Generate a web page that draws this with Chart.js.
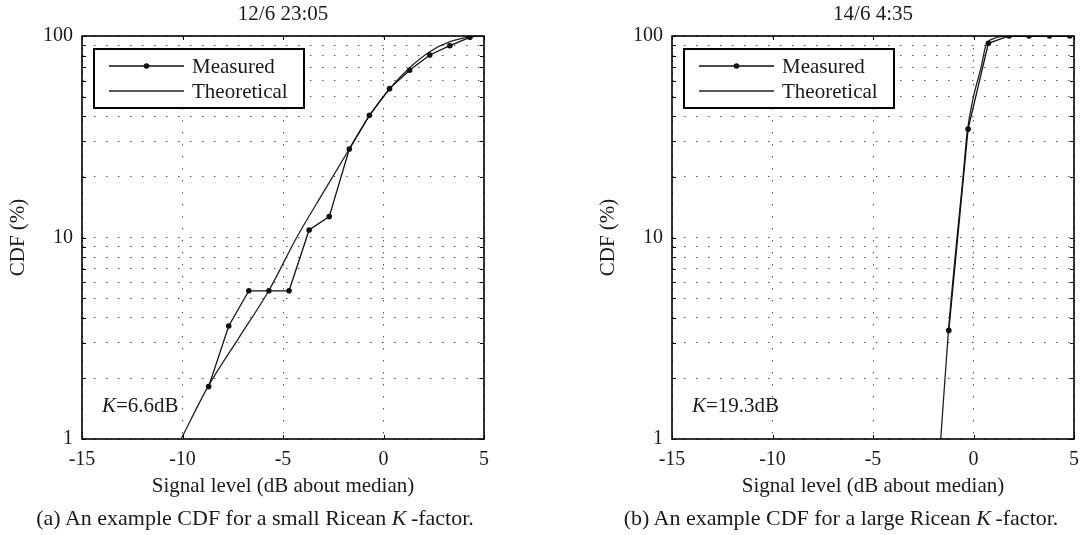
<!DOCTYPE html>
<html>
<head>
<meta charset="utf-8">
<script src="https://cdn.jsdelivr.net/npm/chart.js@4.4.1/dist/chart.umd.min.js"></script>
<style>
  body { margin: 0; background: #fff; width: 1081px; height: 535px; position: relative; overflow: hidden; font-family: "Liberation Serif", "Times New Roman", serif; }
  canvas { position: absolute; top: 0; }
  .caption { position: absolute; top: 506px; font-size: 22px; line-height: 24px; color: #1a1a1a; white-space: nowrap; transform: translateX(-50%); }
</style>
</head>
<body>
<canvas id="cdfA" width="498" height="535" style="left:0px"></canvas>
<canvas id="cdfB" width="498" height="535" style="left:590px"></canvas>
<div class="caption" style="left:255px">(a) An example CDF for a small Ricean <i>K</i>&#8201;-factor.</div>
<div class="caption" style="left:841px">(b) An example CDF for a large Ricean <i>K</i>&#8201;-factor.</div>
<script>
// axis values
const xTicks = [-15, -10, -5, 0, 5];
const yGridValues = [1, 2, 3, 4, 5, 6, 7, 8, 9, 10, 20, 30, 40, 50, 60, 70, 80, 90, 100];
const yLabelValues = [1, 10, 100];

// (a) small K
const titleA = "12/6 23:05";
const kLabelA = "6.6dB";
const measuredXA = [-8.7, -7.7, -6.7, -5.7, -4.7, -3.7, -2.7, -1.7, -0.7, 0.3, 1.3, 2.3, 3.3, 4.3];
const measuredYA = [1.82, 3.64, 5.44, 5.44, 5.44, 10.9, 12.7, 27.5, 40.4, 54.8, 67.6, 80.5, 89.5, 98.5];
const theoryXA = [-10.07, -8.73, -7.22, -5.71, -4.32, -3.0, -1.7, -0.69, 0.31, 1.3, 2.3, 3.31, 4.3, 4.89, 5];
const theoryYA = [1.0, 1.82, 3.15, 5.44, 10.0, 16.7, 27.5, 40.4, 54.8, 69.6, 83.6, 93.7, 98.9, 100, 100];

// (b) large K
const titleB = "14/6 4:35";
const kLabelB = "19.3dB";
const measuredXB = [-1.23, -0.27, 0.74, 1.77, 2.76, 3.78, 4.79];
const measuredYB = [3.46, 34.5, 92, 100, 100, 100, 100];
const theoryXB = [-1.63, -1.25, -0.82, -0.52, -0.32, 0.0, 0.38, 0.62, 1.0, 1.45, 2.0, 5];
const theoryYB = [1.0, 3.4, 10, 20, 33, 50, 70, 90, 97, 99.5, 100, 100];

const serif = "'Liberation Serif', 'Times New Roman', serif";
const ink = "#1a1a1a";

function toPoints(xs, ys) {
  return xs.map((x, i) => ({ x: x, y: ys[i] }));
}

// box round the plot with small inward ticks
const framePlugin = {
  id: "frame",
  afterDatasetsDraw(chart) {
    const { ctx, chartArea: a, scales } = chart;
    ctx.save();
    ctx.strokeStyle = "#000";
    ctx.lineWidth = 1;
    ctx.beginPath();
    scales.y.ticks.forEach((t) => {
      const py = Math.round(scales.y.getPixelForValue(t.value)) + 0.5;
      ctx.moveTo(a.left, py); ctx.lineTo(a.left + 4, py);
      ctx.moveTo(a.right, py); ctx.lineTo(a.right - 4, py);
    });
    scales.x.ticks.forEach((t) => {
      const px = Math.round(scales.x.getPixelForValue(t.value)) + 0.5;
      ctx.moveTo(px, a.bottom); ctx.lineTo(px, a.bottom - 4);
      ctx.moveTo(px, a.top); ctx.lineTo(px, a.top + 4);
    });
    ctx.stroke();
    ctx.lineWidth = 1.6;
    ctx.strokeRect(a.left, a.top, a.right - a.left, a.bottom - a.top);
    ctx.restore();
  },
};

// boxed legend in the upper left corner
const boxLegendPlugin = {
  id: "boxLegend",
  afterDraw(chart) {
    const { ctx, chartArea: a } = chart;
    const left = a.left + 12, top = a.top + 13, w = 210, h = 59;
    ctx.save();
    ctx.fillStyle = "#fff";
    ctx.fillRect(left, top, w, h);
    ctx.lineWidth = 2;
    ctx.strokeStyle = "#000";
    ctx.strokeRect(left, top, w, h);
    chart.data.datasets.forEach((ds, i) => {
      const y = top + 17 + i * 25;
      ctx.strokeStyle = ds.borderColor;
      ctx.lineWidth = ds.borderWidth;
      ctx.beginPath();
      ctx.moveTo(left + 15, y);
      ctx.lineTo(left + 90, y);
      ctx.stroke();
      if (ds.pointRadius > 0) {
        ctx.fillStyle = ds.pointBackgroundColor;
        ctx.beginPath();
        ctx.arc(left + 52.5, y, ds.pointRadius, 0, Math.PI * 2);
        ctx.fill();
      }
      ctx.fillStyle = ink;
      ctx.font = "21px " + serif;
      ctx.textBaseline = "middle";
      ctx.fillText(ds.label, left + 98, y + 1);
    });
    ctx.restore();
  },
};

// K=..dB note in the lower left corner
const kNotePlugin = {
  id: "kNote",
  afterDraw(chart, args, opts) {
    const { ctx, chartArea: a } = chart;
    const x = a.left + 20, y = a.bottom - 27;
    ctx.save();
    ctx.fillStyle = ink;
    ctx.textBaseline = "alphabetic";
    ctx.font = "italic 21px " + serif;
    ctx.fillText("K", x, y);
    const kw = ctx.measureText("K").width;
    ctx.font = "21px " + serif;
    ctx.fillText("=" + opts.text, x + kw, y);
    ctx.restore();
  },
};

function makeChart(id, title, kText, mx, my, tx, ty) {
  return new Chart(document.getElementById(id), {
    type: "line",
    data: {
      datasets: [
        {
          label: "Measured",
          data: toPoints(mx, my),
          borderColor: "#111",
          borderWidth: 1.3,
          pointRadius: 2.8,
          pointBackgroundColor: "#111",
          pointBorderWidth: 0,
          tension: 0,
        },
        {
          label: "Theoretical",
          data: toPoints(tx, ty),
          borderColor: "#222",
          borderWidth: 1.3,
          pointRadius: 0,
          cubicInterpolationMode: "monotone",
        },
      ],
    },
    options: {
      responsive: false,
      animation: false,
      devicePixelRatio: 1,
      layout: { padding: { left: 0, right: 1, top: 0, bottom: 36 } },
      plugins: {
        legend: { display: false },
        tooltip: { enabled: false },
        title: {
          display: true,
          text: title,
          fullSize: false,
          color: ink,
          font: { family: serif, size: 21, weight: "normal" },
          padding: { top: 2, bottom: 8.8 },
        },
        kNote: { text: kText },
      },
      scales: {
        x: {
          type: "linear",
          min: -15,
          max: 5,
          afterBuildTicks: (axis) => { axis.ticks = xTicks.map((v) => ({ value: v })); },
          afterFit: (axis) => { axis.height = 60; },
          ticks: {
            color: ink,
            padding: 9,
            font: { family: serif, size: 20 },
            callback: (v) => String(v),
          },
          grid: { color: "#555", lineWidth: 1, drawTicks: false },
          border: { display: false, dash: [1.5, 10.5] },
          title: {
            display: true,
            text: "Signal level (dB about median)",
            color: ink,
            font: { family: serif, size: 21 },
            padding: { top: 0, bottom: 0 },
          },
        },
        y: {
          type: "logarithmic",
          min: 1,
          max: 100,
          afterBuildTicks: (axis) => { axis.ticks = yGridValues.map((v) => ({ value: v })); },
          afterFit: (axis) => { axis.width = 82; },
          ticks: {
            color: ink,
            padding: 9,
            autoSkip: false,
            font: { family: serif, size: 20 },
            callback: (v) => (yLabelValues.includes(v) ? String(v) : ""),
          },
          grid: { color: "#555", lineWidth: 1, drawTicks: false },
          border: { display: false, dash: [1.5, 10.5] },
          title: {
            display: true,
            text: "CDF (%)",
            color: ink,
            font: { family: serif, size: 21 },
            padding: { top: 6, bottom: 0 },
          },
        },
      },
    },
    plugins: [framePlugin, boxLegendPlugin, kNotePlugin],
  });
}

makeChart("cdfA", titleA, kLabelA, measuredXA, measuredYA, theoryXA, theoryYA);
makeChart("cdfB", titleB, kLabelB, measuredXB, measuredYB, theoryXB, theoryYB);
</script>
</body>
</html>
